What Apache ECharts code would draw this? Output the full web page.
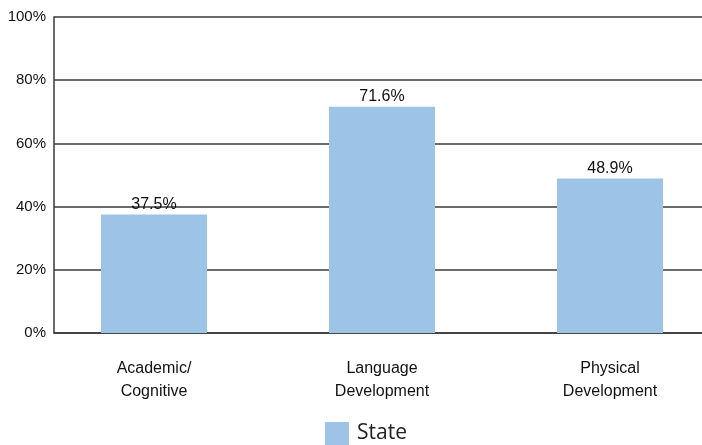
<!DOCTYPE html>
<html>
<head>
<meta charset="utf-8">
<script src="https://cdn.jsdelivr.net/npm/echarts@6/dist/echarts.min.js"></script>
<style>
  html, body { margin: 0; padding: 0; background: #fff; }
  #chart { width: 702px; height: 445px; }
</style>
</head>
<body>
<div id="chart"></div>
<script>
  const categories = ['Academic/\nCognitive', 'Language\nDevelopment', 'Physical\nDevelopment']
  const stateValues = [37.5, 71.6, 48.9]
  const yTicks = [0, 20, 40, 60, 80, 100]

  const chart = echarts.init(document.getElementById('chart'))
  const lineColor = '#3a3a3a'

  const option = {
    backgroundColor: '#ffffff',
    animation: false,
    textStyle: { fontFamily: 'Liberation Sans, Arial, sans-serif' },
    legend: {
      data: ['State'],
      left: 320,
      top: 417,
      icon: 'rect',
      itemWidth: 24,
      itemHeight: 23,
      textStyle: {
        fontFamily: 'Open Sans, sans-serif',
        fontSize: 21,
        color: '#222',
        padding: [0, 0, 0, 3],
      },
    },
    grid: [
      // frame, gridlines and y labels
      { left: 54, top: 17, width: 648, height: 316, outerBoundsMode: 'none' },
      // bars and category labels
      { left: 40, top: 17, width: 684, height: 316, outerBoundsMode: 'none' },
    ],
    xAxis: [
      {
        gridIndex: 0,
        type: 'category',
        data: [''],
        axisLine: { show: true, lineStyle: { color: lineColor, width: 1.5 } },
        axisTick: { show: false },
        axisLabel: { show: false },
      },
      {
        gridIndex: 1,
        type: 'category',
        data: categories,
        axisLine: { show: false },
        axisTick: { show: false },
        axisLabel: {
          margin: 24,
          fontSize: 16,
          lineHeight: 23,
          color: '#111',
        },
      },
    ],
    yAxis: [
      {
        gridIndex: 0,
        type: 'value',
        min: yTicks[0],
        max: yTicks[yTicks.length - 1],
        interval: 20,
        axisLine: { show: true, lineStyle: { color: lineColor, width: 1.5 } },
        axisTick: { show: false },
        axisLabel: { formatter: '{value}%', fontSize: 15, color: '#111', margin: 8 },
        splitLine: { show: true, lineStyle: { color: lineColor, width: 1.5 } },
      },
      {
        gridIndex: 1,
        type: 'value',
        min: yTicks[0],
        max: yTicks[yTicks.length - 1],
        show: false,
      },
    ],
    series: [
      {
        name: 'State',
        type: 'bar',
        xAxisIndex: 1,
        yAxisIndex: 1,
        data: stateValues,
        barWidth: 106,
        itemStyle: { color: '#9dc3e6' },
        label: {
          show: true,
          position: 'top',
          distance: 2,
          formatter: p => p.value.toFixed(1) + '%',
          fontSize: 16,
          color: '#111',
        },
      },
    ],
  }
  chart.setOption(option)
</script>
</body>
</html>
